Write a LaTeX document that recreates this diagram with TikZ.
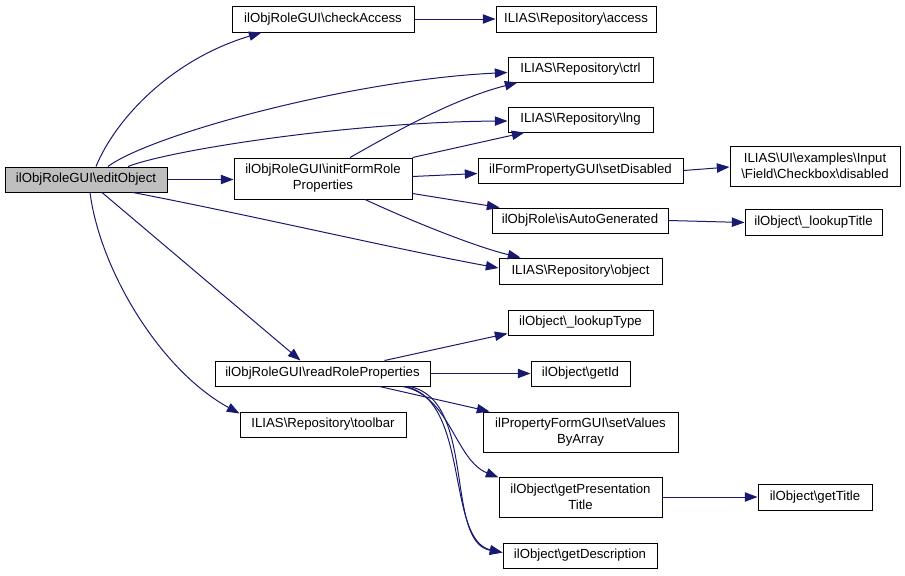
\documentclass[tikz,border=0pt]{standalone}
\usepackage{fontspec}
\setmainfont{Liberation Sans}
\usetikzlibrary{arrows.meta,calc}
\definecolor{edgeblue}{HTML}{191970}
\definecolor{boxgray}{HTML}{BFBFBF}
\newcommand{\bsl}{\textbackslash}
\begin{document}
\begin{tikzpicture}[x=0.75pt,y=-0.75pt,
  fn/.style={draw=black, line width=0.75pt, fill=white, inner sep=0pt, align=center,
    font=\fontsize{9.9}{12}\selectfont},
  edge/.style={draw=edgeblue, line width=0.75pt, -{Triangle[length=9.5pt,width=7pt]}}]
\useasboundingbox (0,0) rectangle (905,575);

\node[fn, fill=boxgray, minimum width=121.5pt, minimum height=18.75pt] (eo) at (86,179.5) {ilObjRoleGUI\bsl editObject};
\node[fn, minimum width=136.5pt, minimum height=19.5pt] (ca) at (323,19) {ilObjRoleGUI\bsl checkAccess};
\node[fn, minimum width=120pt, minimum height=19.5pt] (ac) at (576,19) {ILIAS\bsl Repository\bsl access};
\node[fn, minimum width=108.75pt, minimum height=18.75pt] (ctrl) at (580.5,69.5) {ILIAS\bsl Repository\bsl ctrl};
\node[fn, minimum width=108.75pt, minimum height=18.75pt] (lng) at (580.5,119.5) {ILIAS\bsl Repository\bsl lng};
\node[fn, minimum width=133.5pt, minimum height=30.75pt] (ifr) at (323,178.5) {ilObjRoleGUI\bsl initFormRole\\Properties};
\node[fn, minimum width=153.75pt, minimum height=18.75pt] (sd) at (580.5,170.5) {ilFormPropertyGUI\bsl setDisabled};
\node[fn, minimum width=132pt, minimum height=18.75pt] (ia) at (580,220.5) {ilObjRole\bsl isAutoGenerated};
\node[fn, minimum width=122.25pt, minimum height=19.5pt] (obj) at (580.5,271) {ILIAS\bsl Repository\bsl object};
\node[fn, minimum width=127.5pt, minimum height=30pt] (cb) at (815,166) {ILIAS\bsl UI\bsl examples\bsl Input\\\bsl Field\bsl Checkbox\bsl disabled};
\node[fn, minimum width=102.75pt, minimum height=19.5pt] (lt) at (813.5,222.5) {ilObject\bsl \_lookupTitle};
\node[fn, minimum width=108.75pt, minimum height=18.75pt] (ltype) at (580.5,322.5) {ilObject\bsl \_lookupType};
\node[fn, minimum width=161.25pt, minimum height=18.75pt] (rr) at (322.5,373.5) {ilObjRoleGUI\bsl readRoleProperties};
\node[fn, minimum width=74.25pt, minimum height=18.75pt] (gid) at (580.5,373.5) {ilObject\bsl getId};
\node[fn, minimum width=124.5pt, minimum height=18.75pt] (tb) at (323,424.5) {ILIAS\bsl Repository\bsl toolbar};
\node[fn, minimum width=146.25pt, minimum height=30pt] (sv) at (580.5,432) {ilPropertyFormGUI\bsl setValues\\ByArray};
\node[fn, minimum width=122.25pt, minimum height=30pt] (gpt) at (580.5,497) {ilObject\bsl getPresentation\\Title};
\node[fn, minimum width=115.5pt, minimum height=18.75pt] (gd) at (580,555.5) {ilObject\bsl getDescription};
\node[fn, minimum width=85.5pt, minimum height=19.5pt] (gt) at (815,497) {ilObject\bsl getTitle};

% edges from editObject
\draw[edge] ($(eo.north)+(10,0)$) .. controls (115,120) and (170,60) .. ($(ca.south west)+(30,0)$);
\draw[edge] ($(eo.north)+(22,0)$) .. controls (150,135) and (350,80) .. ($(ctrl.west)+(0,3)$);
\draw[edge] ($(eo.north)+(42,0)$) .. controls (170,150) and (350,122) .. ($(lng.west)+(0,1.5)$);
\draw[edge] (eo.east) -- (eo.east -| ifr.west);
\draw[edge] ($(eo.south)+(47,0)$) .. controls (250,215) and (400,250) .. ($(obj.west)+(0,-3)$);
\draw[edge] ($(eo.south)+(16,0)$) -- ($(rr.north)+(-22,0)$);
\draw[edge] ($(eo.south)+(4,0)$) .. controls (100,270) and (160,370) .. ($(tb.north west)+(0,2)$);
\draw[edge] (ca) -- (ac);
% edges from initFormRoleProperties
\draw[edge] ($(ifr.north)+(27,0)$) .. controls (390,135) and (450,100) .. ($(ctrl.south west)+(10,0)$);
\draw[edge] (ifr.north east) -- ($(lng.south west)+(17,0)$);
\draw[edge] ($(ifr.east)+(0,-2)$) -- ($(sd.west)+(0,3)$);
\draw[edge] ($(ifr.south east)+(0,-6)$) -- ($(ia.north west)+(8,0)$);
\draw[edge] ($(ifr.south)+(42,0)$) .. controls (420,225) and (480,248) .. ($(obj.north west)+(22,0)$);
\draw[edge] (sd.east) -- ($(cb.west)+(0,1)$);
\draw[edge] (ia.east) -- (lt.west);
% edges from readRoleProperties
\draw[edge] ($(rr.north)+(62,0)$) -- ($(ltype.south west)+(0,-2)$);
\draw[edge] (rr.east) -- (gid.west);
\draw[edge] ($(rr.south)+(57,0)$) -- ($(sv.north west)+(7,0)$);
\draw[edge] ($(rr.south)+(80,0)$) .. controls (450,395) and (455,460) .. ($(gpt.north west)+(0,1)$);
\draw[edge] ($(rr.south)+(83,0)$) .. controls (470,400) and (446,540) .. ($(gd.west)+(0,-3)$);
\draw[edge] ($(rr.south)+(87,0)$) .. controls (477,400) and (444,542) .. ($(gd.west)+(0,-3)$);
\draw[edge] (gpt.east) -- (gt.west);
\end{tikzpicture}
\end{document}
